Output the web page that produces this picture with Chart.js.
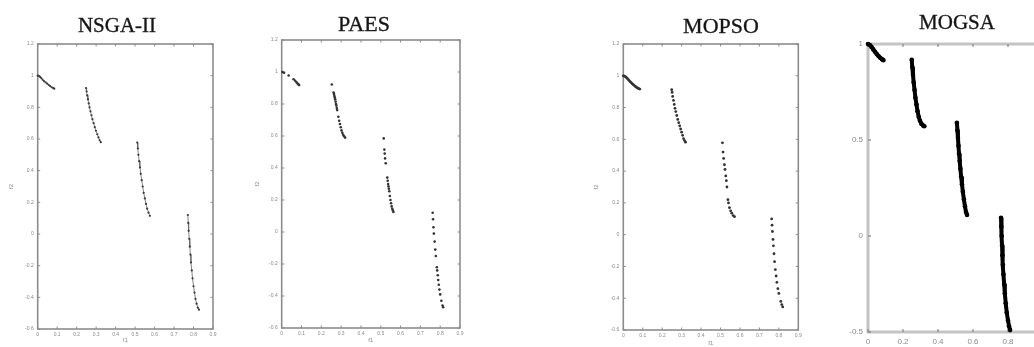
<!DOCTYPE html>
<html>
<head>
<meta charset="utf-8">
<script src="https://cdn.jsdelivr.net/npm/chart.js@4.4.1/dist/chart.umd.min.js"></script>
<style>
  html, body { margin: 0; padding: 0; background: #fff; overflow: hidden; width: 1034px; height: 347px; }
  canvas { position: absolute; top: 0; display: block; }
  .soft { filter: blur(0.4px); }
  .ttl { position: absolute; font-family: "Liberation Serif", "Times New Roman", serif; color: #141414;
         -webkit-text-stroke: 0.35px #222; line-height: 21px; white-space: nowrap; transform: translateX(-50%); }
</style>
</head>
<body>
<canvas id="nsga" class="soft" width="240" height="347" style="left:0px"></canvas>
<canvas id="paes" class="soft" width="240" height="347" style="left:240px"></canvas>
<canvas id="mopso" class="soft" width="230" height="347" style="left:580px"></canvas>
<canvas id="mogsa" width="250" height="347" style="left:810px"></canvas>

<div class="ttl" style="left:117px;top:15px;font-size:21px">NSGA-II</div>
<div class="ttl" style="left:364px;top:13px;font-size:22px">PAES</div>
<div class="ttl" style="left:721px;top:15px;font-size:22px">MOPSO</div>
<div class="ttl" style="left:957px;top:12px;font-size:21px">MOGSA</div>

<script>
// tick labels
const f1Ticks = [0, 0.1, 0.2, 0.3, 0.4, 0.5, 0.6, 0.7, 0.8, 0.9];
const f2Ticks = [-0.6, -0.4, -0.2, 0, 0.2, 0.4, 0.6, 0.8, 1, 1.2];
const mogsaF1Ticks = [0, 0.2, 0.4, 0.6, 0.8, 1];
const mogsaF2Ticks = [-0.5, 0, 0.5, 1];

// Pareto fronts, [f1, f2], one array per segment
const nsgaFront = [
  [[0,1.0],[0.006,0.998],[0.012,0.993],[0.018,0.985],[0.025,0.975],[0.032,0.966],[0.04,0.958],[0.048,0.95],
   [0.056,0.942],[0.064,0.934],[0.072,0.927],[0.08,0.921],[0.085,0.918]],
  [[0.248,0.922],[0.251,0.9],[0.254,0.875],[0.258,0.85],[0.262,0.825],[0.266,0.8],[0.271,0.775],[0.276,0.75],
   [0.281,0.725],[0.287,0.7],[0.293,0.675],[0.299,0.652],[0.306,0.63],[0.312,0.61],[0.318,0.592],[0.324,0.58]],
  [[0.511,0.578],[0.514,0.54],[0.517,0.5],[0.521,0.46],[0.525,0.42],[0.529,0.38],[0.534,0.34],[0.539,0.3],
   [0.544,0.26],[0.55,0.225],[0.556,0.19],[0.562,0.16],[0.569,0.135],[0.576,0.115]],
  [[0.771,0.12],[0.773,0.07],[0.775,0.02],[0.778,-0.03],[0.781,-0.08],[0.784,-0.13],[0.787,-0.18],[0.791,-0.23],
   [0.795,-0.28],[0.8,-0.33],[0.805,-0.37],[0.81,-0.41],[0.816,-0.44],[0.822,-0.465],[0.828,-0.478]]
];

const paesFront = [
  [[0.004,1.0],[0.012,0.995],[0.035,0.978],[0.06,0.955],[0.068,0.945],[0.075,0.935],[0.08,0.928],[0.085,0.922],[0.088,0.918]],
  [[0.253,0.922],[0.262,0.872],[0.264,0.862],[0.266,0.85],[0.268,0.84],[0.27,0.83],[0.272,0.815],[0.274,0.8],
   [0.276,0.79],[0.278,0.775],[0.28,0.762],[0.286,0.72],[0.29,0.695],[0.294,0.675],[0.298,0.655],[0.302,0.635],
   [0.306,0.62],[0.31,0.608],[0.315,0.598],[0.32,0.59]],
  [[0.515,0.585],[0.518,0.515],[0.52,0.49],[0.522,0.46],[0.525,0.43],[0.533,0.34],[0.535,0.32],[0.537,0.3],
   [0.539,0.285],[0.541,0.27],[0.543,0.255],[0.546,0.225],[0.549,0.2],[0.552,0.18],[0.555,0.16],[0.558,0.145],
   [0.561,0.135],[0.564,0.125]],
  [[0.762,0.12],[0.764,0.08],[0.766,0.03],[0.768,-0.01],[0.772,-0.06],[0.775,-0.11],[0.778,-0.15],[0.783,-0.22],
   [0.785,-0.24],[0.788,-0.27],[0.79,-0.3],[0.793,-0.33],[0.796,-0.36],[0.8,-0.39],[0.806,-0.43],[0.812,-0.46],[0.815,-0.47]]
];

const mopsoFront = [
  [[0,1.0],[0.005,0.998],[0.01,0.995],[0.015,0.99],[0.02,0.984],[0.025,0.977],[0.03,0.97],[0.035,0.963],[0.04,0.957],
   [0.045,0.951],[0.05,0.946],[0.055,0.94],[0.06,0.935],[0.065,0.93],[0.07,0.926],[0.075,0.922],[0.08,0.919],[0.085,0.916]],
  [[0.249,0.912],[0.251,0.895],[0.254,0.87],[0.258,0.845],[0.262,0.82],[0.266,0.795],[0.27,0.775],[0.275,0.75],
   [0.28,0.725],[0.285,0.705],[0.29,0.685],[0.295,0.665],[0.3,0.645],[0.305,0.625],[0.31,0.605],[0.315,0.592],[0.32,0.582]],
  [[0.51,0.578],[0.513,0.52],[0.516,0.48],[0.52,0.44],[0.523,0.41],[0.527,0.37],[0.53,0.34],[0.533,0.3],
   [0.538,0.22],[0.541,0.2],[0.546,0.17],[0.552,0.15],[0.558,0.135],[0.565,0.12],[0.572,0.113]],
  [[0.763,0.099],[0.765,0.06],[0.767,0.02],[0.77,-0.03],[0.772,-0.07],[0.775,-0.12],[0.778,-0.17],[0.782,-0.22],
   [0.786,-0.26],[0.79,-0.3],[0.795,-0.34],[0.8,-0.37],[0.81,-0.42],[0.815,-0.44],[0.82,-0.455]]
];

const mogsaFront = [
  [[0,1.0],[0.01,0.995],[0.02,0.985],[0.03,0.972],[0.04,0.96],[0.05,0.948],[0.06,0.937],[0.07,0.928],[0.08,0.92],[0.088,0.916]],
  [[0.25,0.918],[0.253,0.88],[0.257,0.84],[0.261,0.8],[0.266,0.76],[0.271,0.72],[0.277,0.685],[0.283,0.65],
   [0.29,0.62],[0.297,0.6],[0.305,0.585],[0.315,0.575],[0.322,0.572]],
  [[0.508,0.59],[0.511,0.55],[0.514,0.51],[0.517,0.47],[0.52,0.43],[0.524,0.39],[0.528,0.35],[0.532,0.31],
   [0.537,0.27],[0.542,0.23],[0.548,0.19],[0.554,0.155],[0.56,0.125],[0.566,0.11]],
  [[0.76,0.095],[0.762,0.05],[0.764,0.0],[0.766,-0.05],[0.768,-0.1],[0.771,-0.15],[0.774,-0.2],[0.778,-0.25],
   [0.782,-0.3],[0.787,-0.35],[0.793,-0.4],[0.8,-0.44],[0.806,-0.47],[0.812,-0.49]]
];

// MATLAB style box with inward ticks
const boxFrame = {
  id: 'boxFrame',
  beforeDatasetsDraw(chart, args, o) {
    const { ctx, chartArea: a, scales: { x, y } } = chart;
    ctx.save();
    ctx.strokeStyle = o.color;
    ctx.lineWidth = o.width;
    ctx.strokeRect(a.left, a.top, a.right - a.left, a.bottom - a.top);
    ctx.strokeStyle = o.tickColor;
    ctx.lineWidth = 1;
    ctx.beginPath();
    x.ticks.forEach(t => {
      const px = x.getPixelForValue(t.value);
      ctx.moveTo(px, a.bottom); ctx.lineTo(px, a.bottom - o.len);
      ctx.moveTo(px, a.top); ctx.lineTo(px, a.top + o.len);
    });
    y.ticks.forEach(t => {
      const py = y.getPixelForValue(t.value);
      ctx.moveTo(a.left, py); ctx.lineTo(a.left + o.len, py);
      ctx.moveTo(a.right, py); ctx.lineTo(a.right - o.len, py);
    });
    ctx.stroke();
    ctx.restore();
  }
};

function makePanel(id, front, p) {
  const cv = document.getElementById(id);
  const fixTicks = arr => scale => { scale.ticks = arr.map(v => ({ value: v })); };
  const tickFont = { family: 'Arial, "Liberation Sans", sans-serif', size: p.tickSize };
  new Chart(cv.getContext('2d'), {
    type: 'scatter',
    data: {
      datasets: front.map(seg => ({
        data: seg.map(([x, y]) => ({ x, y })),
        backgroundColor: p.color,
        borderColor: p.lineColor || p.color,
        pointRadius: p.radius,
        pointBorderWidth: 0,
        showLine: p.line > 0,
        borderWidth: p.line,
        clip: false
      }))
    },
    options: {
      responsive: false,
      animation: false,
      devicePixelRatio: 1,
      layout: { padding: { left: 0, top: p.top, right: cv.width - p.right, bottom: 0 } },
      plugins: {
        legend: { display: false },
        tooltip: { enabled: false },
        boxFrame: { color: p.frame, width: p.frameWidth, tickColor: p.tickColor, len: p.tickLen }
      },
      scales: {
        x: {
          type: 'linear', min: p.xMin, max: p.xMax,
          afterBuildTicks: fixTicks(p.xTicks),
          afterFit: s => { s.height = 347 - p.bottom; },
          grid: { display: false, drawTicks: false }, border: { display: false },
          ticks: { font: tickFont, color: '#8a8a8a', padding: p.xPad, maxRotation: 0, autoSkip: false,
                   callback: v => String(+v.toFixed(1)) },
          title: { display: !!p.xTitle, text: 'f1', color: '#8a8a8a', font: { size: 6 },
                   padding: { top: 0, bottom: p.xTitlePad } }
        },
        y: {
          type: 'linear', min: p.yMin, max: p.yMax,
          afterBuildTicks: fixTicks(p.yTicks),
          afterFit: s => { s.width = p.left; },
          grid: { display: false, drawTicks: false }, border: { display: false },
          ticks: { font: tickFont, color: '#8a8a8a', padding: p.yPad, autoSkip: false,
                   callback: v => String(+v.toFixed(1)) },
          title: { display: !!p.yTitle, text: 'f2', color: '#8a8a8a', font: { size: 6 },
                   padding: { top: p.yTitlePad, bottom: 0 } }
        }
      }
    },
    plugins: [boxFrame]
  });
}

const smallAxes = {
  xMin: 0, xMax: 0.9, yMin: -0.6, yMax: 1.2, xTicks: f1Ticks, yTicks: f2Ticks,
  tickSize: 5, xPad: 3, yPad: 4, frame: '#8c8c8c', frameWidth: 1.6, tickColor: '#8c8c8c', tickLen: 2.5,
  xTitle: true, yTitle: true, xTitlePad: 3
};

makePanel('nsga', nsgaFront, Object.assign({}, smallAxes,
  { left: 37.7, right: 213, top: 44, bottom: 329, color: '#3a3a3a', lineColor: '#666', radius: 1.1, line: 0.8, yTitlePad: 8 }));
makePanel('paes', paesFront, Object.assign({}, smallAxes,
  { left: 41.7, right: 220, top: 40, bottom: 328, color: '#333', radius: 1.3, line: 0, yTitlePad: 14 }));
makePanel('mopso', mopsoFront, Object.assign({}, smallAxes,
  { left: 43.3, right: 218.3, top: 44, bottom: 330, color: '#333', radius: 1.4, line: 0, yTitlePad: 13, xTitlePad: 0 }));
makePanel('mogsa', mogsaFront, {
  xMin: 0, xMax: 1, yMin: -0.5, yMax: 1, xTicks: mogsaF1Ticks, yTicks: mogsaF2Ticks,
  tickSize: 8, xPad: 5, yPad: 5, frame: '#c4c4c4', frameWidth: 3, tickColor: '#777', tickLen: 3,
  xTitle: false, yTitle: false,
  left: 58, right: 233, top: 44, bottom: 332, color: '#000', radius: 2.3, line: 4
});
</script>
</body>
</html>
